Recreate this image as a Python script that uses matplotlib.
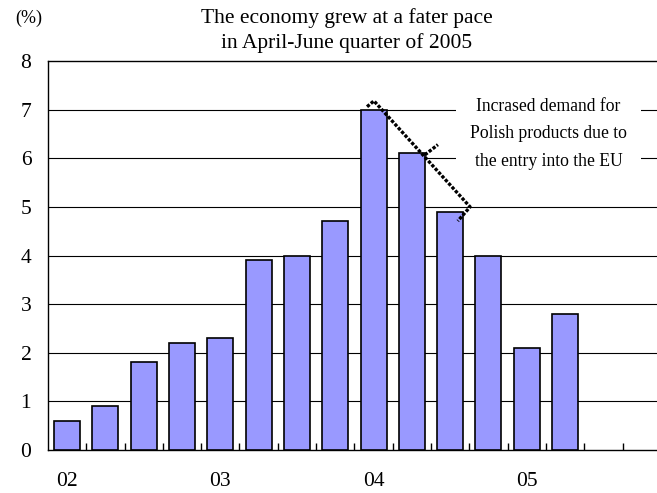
import matplotlib.pyplot as plt
import matplotlib as mpl
import numpy as np

# quarterly GDP growth, y/y (%) 2002Q1 - 2005Q2
growth = [0.6, 0.9, 1.8, 2.2, 2.3, 3.9, 4.0, 4.7, 7.0, 6.1, 4.9, 4.0, 2.1, 2.8]
n_slots = 16
year_labels = ['02', '03', '04', '05']
year_pos = [0, 4, 8, 12]
y_ticks = [0, 1, 2, 3, 4, 5, 6, 7, 8]

mpl.rcParams['font.family'] = ['Liberation Serif', 'DejaVu Serif']

fig = plt.figure(figsize=(6.57, 4.93), dpi=100)
ax = fig.add_axes([0.073, 0.0872, 0.927, 0.789])

x = np.arange(len(growth))
ax.bar(x, growth, width=0.68, color='#9999ff', edgecolor='black', linewidth=1.2, zorder=3)

ax.set_xlim(-0.5, 15.4)
ax.set_ylim(0, 8)
for v in y_ticks[1:-1]:
    ax.axhline(v, color='black', linewidth=0.8, zorder=1)

ax.spines['right'].set_visible(False)
for s in ['left', 'bottom', 'top']:
    ax.spines[s].set_linewidth(1.0)

ax.set_yticks(y_ticks)
ax.tick_params(axis='y', length=0, pad=12, labelsize=15.5)
ax.set_xticks(year_pos)
ax.set_xticklabels(year_labels)
ax.tick_params(axis='x', which='major', length=0, pad=16, labelsize=15.5)
ax.set_xticks(np.arange(0.5, n_slots - 1, 1.0), minor=True)
ax.tick_params(axis='x', which='minor', direction='in', length=5, width=1.0)

fig.text(0.023, 0.962, '(%)', fontsize=13, va='center')
fig.text(0.528, 0.963, 'The economy grew at a fater pace', fontsize=15.5, ha='center', va='center')
fig.text(0.528, 0.912, 'in April-June quarter of 2005', fontsize=15.5, ha='center', va='center')

# hand-drawn bracket over the peak quarters
bx = [7.83, 8.01, 10.52, 10.2]
by = [7.06, 7.18, 5.0, 4.71]
ax.plot(bx, by, color='black', linestyle=(0, (1, 0.5)), linewidth=2.4, zorder=5)
ax.plot([9.34, 9.68], [6.07, 6.28], color='black', linestyle=(0, (1, 0.5)), linewidth=2.4, zorder=5)

ax.text(12.57, 6.5, 'Incrased demand for\nPolish products due to\nthe entry into the EU',
        fontsize=12.7, ha='center', va='center', linespacing=1.8, zorder=4,
        bbox=dict(facecolor='white', edgecolor='none', pad=10))

fig.savefig('out.png', dpi=100)
